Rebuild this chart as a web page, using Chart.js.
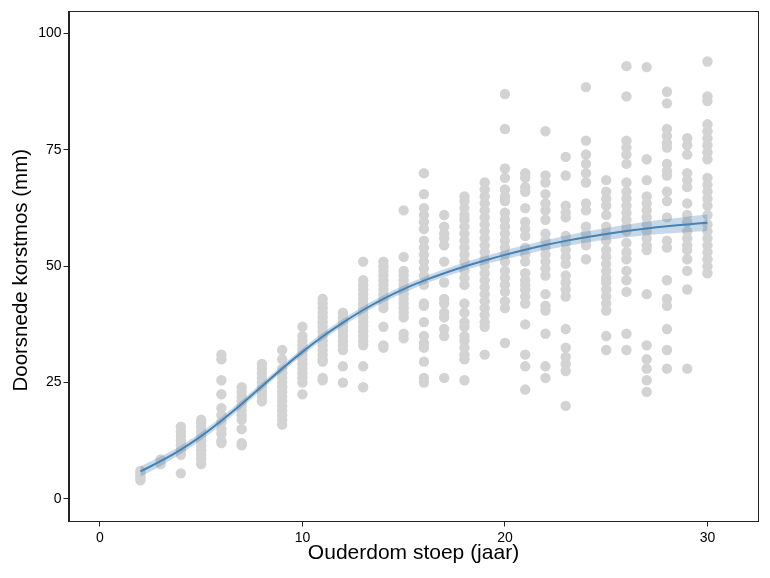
<!DOCTYPE html>
<html>
<head>
<meta charset="utf-8">
<script src="https://cdn.jsdelivr.net/npm/chart.js@4.4.1/dist/chart.umd.min.js"></script>
<style>
  html, body { margin: 0; padding: 0; background: #fff; }
  canvas { display: block; }
</style>
</head>
<body>
<canvas id="c" width="770" height="578"></canvas>
<script>
// ---- Data ----
const xTicks = [0, 10, 20, 30];
const yTicks = [0, 25, 50, 75, 100];
const xTitle = 'Ouderdom stoep (jaar)';
const yTitle = 'Doorsnede korstmos (mm)';

// observed diameters per sidewalk age
const ages = [2,3,4,5,6,7,8,9,10,11,12,13,14,15,16,17,18,19,20,21,22,23,24,25,26,27,28,29,30];
const d02 = [4, 4.5, 5, 5.5, 6];
const d03 = [7.5, 8.5];
const d04 = [5.5, 9.5, 10.5, 11.5, 12.5, 13.5, 14.5, 15.5];
const d05 = [7.5, 8.5, 9.5, 10.5, 11.5, 12.5, 13.5, 14.5, 15.5, 16.5, 17];
const d06 = [31, 30, 25.5, 22.5, 19.5, 18, 16.5, 15, 14, 12.5, 12];
const d07 = [24, 23, 22, 21, 20, 19, 18, 17, 15, 12, 11.5];
const d08 = [29, 28, 27, 26, 25, 24, 23, 22, 21];
const d09 = [32, 30, 28, 27, 26, 25, 24, 23, 22, 21, 20, 19, 18, 17, 16];
const d10 = [37, 35, 34, 33, 32, 31, 30, 29, 28, 27, 26, 25, 22.5];
const d11 = [43, 42, 41, 40, 39, 38, 37, 36, 35, 34, 33, 32, 31, 30, 29.5, 26, 25.5];
const d12 = [40, 39, 38, 37, 36, 35, 34, 33, 32, 28.5, 25];
const d13 = [51, 47, 46, 45, 44, 43, 42, 41, 40, 39, 38, 37, 36, 35, 34, 33, 28.5, 24];
const d14 = [51, 50, 49, 48, 47, 46, 45, 44, 43, 42, 41, 37, 33, 32.5];
const d15 = [62, 52, 49, 48, 47, 46, 45, 44, 43, 42, 41, 40, 39, 35.5, 34.5];
const d16 = [70, 65.5, 62.5, 61, 59.5, 58, 55.5, 54, 52.5, 51, 49.5, 48, 46, 42, 41.5, 38, 35, 33.5, 32.5, 29.5, 26, 25];
const d17 = [61, 58.5, 57, 56, 54.5, 51, 46.5, 43, 42, 40, 39, 36.5, 35, 26];
const d18 = [65, 64, 62.5, 61, 60, 58.5, 57, 55.5, 54, 52.5, 51, 49, 47.5, 46, 42, 40, 38, 37, 35, 34, 32.5, 31, 30, 25.5];
const d19 = [68, 66.5, 65, 63.5, 62, 60.5, 59, 57.5, 56, 54.5, 53, 51.5, 50, 48.5, 47, 45.5, 44, 42.5, 41, 39.5, 38, 37, 31];
const d20 = [87, 79.5, 71, 69, 66.5, 65, 64, 61.5, 60, 58.5, 57, 55.5, 54, 52.5, 51, 49, 47.5, 46, 44.5, 42.5, 41, 33.5];
const d21 = [70, 69, 67, 66, 62.5, 59.5, 58, 56.5, 54, 52.5, 51, 48.5, 47, 46, 45, 43.5, 42, 37.5, 31, 28.5, 23.5];
const d22 = [79, 69.5, 68, 65.5, 63.5, 62, 60, 57, 55.5, 54, 52.5, 51, 49.5, 48, 44, 41.5, 40.5, 35.5, 28.5, 26];
const d23 = [73.5, 69.5, 63, 61.5, 60.5, 56.5, 55, 53.5, 52, 50.5, 48, 46.5, 45, 43.5, 36.5, 32.5, 30.5, 29, 27.5, 20];
const d24 = [88.5, 77, 74, 72, 70, 68, 63.5, 62, 58.5, 57, 55.5, 54.5, 51.5];
const d25 = [68.5, 66, 64.5, 63, 61, 58.5, 57, 55.5, 53.5, 52, 50.5, 49, 47.5, 46.5, 45, 43.5, 42, 40.5, 35, 32];
const d26 = [93, 86.5, 77, 75.5, 74, 72, 68, 66, 64.5, 63, 61.5, 60, 58.5, 57.5, 55, 53, 51.5, 49, 47, 44.5, 35.5, 32];
const d27 = [92.8, 73, 68.5, 65, 63.5, 62, 60.5, 59, 57.5, 56, 54.5, 53.5, 44, 33, 30, 28, 25.5, 23];
const d28 = [87.5, 85, 79.5, 78, 76.5, 75.5, 72, 70.5, 69.5, 66, 64, 60.5, 55.5, 54, 47, 43, 41.5, 36.5, 32, 28];
const d29 = [77.5, 76, 74, 70, 68.5, 67, 63.5, 61, 59.5, 57.5, 56, 54.5, 53.5, 51.5, 49, 45, 28];
const d30 = [94, 86.5, 85.5, 80.5, 79, 77.5, 76, 74.5, 73, 69, 67.5, 66, 64.5, 63, 61, 59, 57.5, 56, 54.5, 53, 51.5, 50, 48.5];

// fitted curve with confidence band
const fitX    = [2,3,4,5,6,7,8,9,10,11,12,13,14,15,16,17,18,19,20,21,22,23,24,25,26,27,28,29,30];
const fitY    = [5.9,8.1,10.6,13.5,16.8,20.4,24.2,28.0,31.6,34.9,37.9,40.6,43.0,45.1,46.9,48.5,49.95,51.25,52.45,53.55,54.55,55.45,56.25,56.95,57.57,58.11,58.58,58.99,59.34];
const fitLow  = [4.8,7.1,9.7,12.65,16.0,19.62,23.44,27.25,30.85,34.15,37.15,39.85,42.24,44.32,46.1,47.67,49.09,50.35,51.5,52.55,53.49,54.32,55.05,55.67,56.2,56.65,57.02,57.33,57.57];
const fitHigh = [7.0,9.1,11.5,14.35,17.6,21.18,24.96,28.75,32.35,35.65,38.65,41.35,43.76,45.88,47.7,49.33,50.81,52.15,53.4,54.55,55.61,56.58,57.45,58.23,58.94,59.57,60.14,60.65,61.11];

// ---- Build datasets ----
const columns = [d02,d03,d04,d05,d06,d07,d08,d09,d10,d11,d12,d13,d14,d15,d16,d17,d18,d19,d20,d21,d22,d23,d24,d25,d26,d27,d28,d29,d30];
const scatterPts = [];
columns.forEach((col, i) => col.forEach(v => scatterPts.push({ x: ages[i], y: v })));
const toPts = arr => fitX.map((x, i) => ({ x: x, y: arr[i] }));

const FONT = 'Liberation Sans, Arial, sans-serif';

const framePlugin = {
  id: 'frame',
  afterDatasetsDraw(chart) {
    const a = chart.chartArea;
    const ctx = chart.ctx;
    ctx.save();
    ctx.strokeStyle = '#222';
    ctx.lineWidth = 1;
    ctx.strokeRect(Math.round(a.left) + 0.5, Math.round(a.top) + 0.5,
                   Math.round(a.right - a.left) - 1, Math.round(a.bottom - a.top) - 1);
    ctx.restore();
  },
  afterDraw(chart) {
    // y-axis title, centred like the reference
    const a = chart.chartArea;
    const ctx = chart.ctx;
    ctx.save();
    ctx.fillStyle = '#000';
    ctx.font = '20.5px ' + FONT;
    ctx.textAlign = 'center';
    ctx.textBaseline = 'middle';
    ctx.translate(21, (a.top + a.bottom) / 2 + 4);
    ctx.rotate(-Math.PI / 2);
    ctx.fillText(yTitle, 0, 0);
    ctx.restore();
  }
};

new Chart(document.getElementById('c'), {
  type: 'scatter',
  data: {
    datasets: [
      { type: 'line', data: toPts(fitY), borderColor: '#4682B4', borderWidth: 2,
        pointRadius: 0, fill: false, tension: 0.4 },
      { type: 'line', data: toPts(fitHigh), borderWidth: 0, borderColor: 'rgba(0,0,0,0)',
        pointRadius: 0, fill: '+1', backgroundColor: 'rgba(70,130,180,0.3)',
        tension: 0.4 },
      { type: 'line', data: toPts(fitLow), borderWidth: 0, borderColor: 'rgba(0,0,0,0)',
        pointRadius: 0, fill: false, tension: 0.4 },
      { data: scatterPts, pointRadius: 5.2, pointHoverRadius: 5.2,
        backgroundColor: '#d3d3d3', borderWidth: 0 }
    ]
  },
  options: {
    responsive: false,
    animation: false,
    events: [],
    layout: { padding: { top: 11, right: 11.5, left: 0, bottom: 0 } },
    plugins: { legend: { display: false }, tooltip: { enabled: false } },
    scales: {
      x: {
        type: 'linear', min: -1.55, max: 32.52,
        afterFit(scale) { scale.height = 56.5; },
        afterBuildTicks(scale) { scale.ticks = xTicks.map(v => ({ value: v })); },
        grid: { display: true, drawOnChartArea: false, drawTicks: true, tickLength: 5,
                tickColor: '#222', tickWidth: 1 },
        border: { display: true, color: '#222', width: 1 },
        ticks: { color: '#000', padding: 3, font: { family: FONT, size: 14 } },
        title: { display: true, text: xTitle, color: '#000',
                 font: { family: FONT, size: 21 },
                 padding: { top: 0, bottom: 12 } }
      },
      y: {
        type: 'linear', min: -4.85, max: 104.85,
        afterFit(scale) { scale.width = 68.5; },
        afterBuildTicks(scale) { scale.ticks = yTicks.map(v => ({ value: v })); },
        grid: { display: true, drawOnChartArea: false, drawTicks: true, tickLength: 5,
                tickColor: '#222', tickWidth: 1 },
        border: { display: true, color: '#222', width: 1 },
        ticks: { color: '#000', padding: 2, font: { family: FONT, size: 14 } },
        title: { display: false }
      }
    }
  },
  plugins: [framePlugin]
});
</script>
</body>
</html>
